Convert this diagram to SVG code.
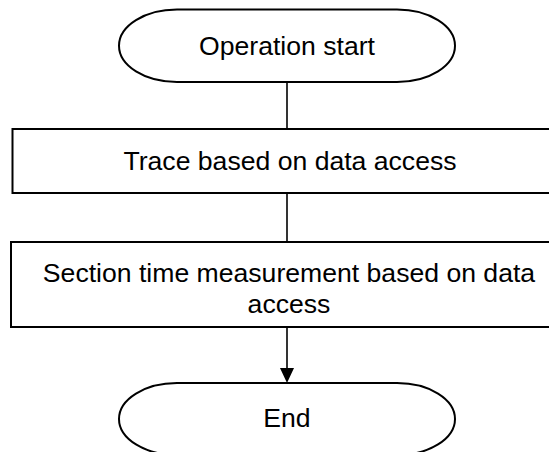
<svg xmlns="http://www.w3.org/2000/svg" width="549" height="452" viewBox="0 0 549 452">
<style>
.shape{fill:#fff;stroke:#000;stroke-width:2}
.line{stroke:#000;stroke-width:1.6;fill:none}
.t{font-family:"Liberation Sans",Arial,sans-serif;font-size:26.6px;fill:#000;text-anchor:middle}
</style>
<rect width="549" height="452" fill="#fff"/>
<g id="connectors">
<line class="line" x1="287" y1="82" x2="287" y2="129"/>
<line class="line" x1="287" y1="193" x2="287" y2="242"/>
<line class="line" x1="287" y1="327" x2="287" y2="369"/>
<polygon points="280,368 294,368 287,383" fill="#000"/>
</g>
<g id="start">
<path class="shape" d="M177,9.5 H397 A58,36.25 0 0 1 397,82 H177 A58,36.25 0 0 1 177,9.5 Z"/>
<text class="t" x="287" y="55">Operation start</text>
</g>
<g id="trace">
<rect class="shape" x="12.5" y="129" width="550" height="64"/>
<text class="t" x="290" y="170">Trace based on data access</text>
</g>
<g id="measure">
<rect class="shape" x="11" y="242" width="552" height="85"/>
<text class="t" x="289" y="282">Section time measurement based on data</text>
<text class="t" x="289" y="313">access</text>
</g>
<g id="end">
<path class="shape" d="M177,383 H397 A58,36 0 0 1 397,455 H177 A58,36 0 0 1 177,383 Z"/>
<text class="t" x="287" y="427">End</text>
</g>
</svg>
